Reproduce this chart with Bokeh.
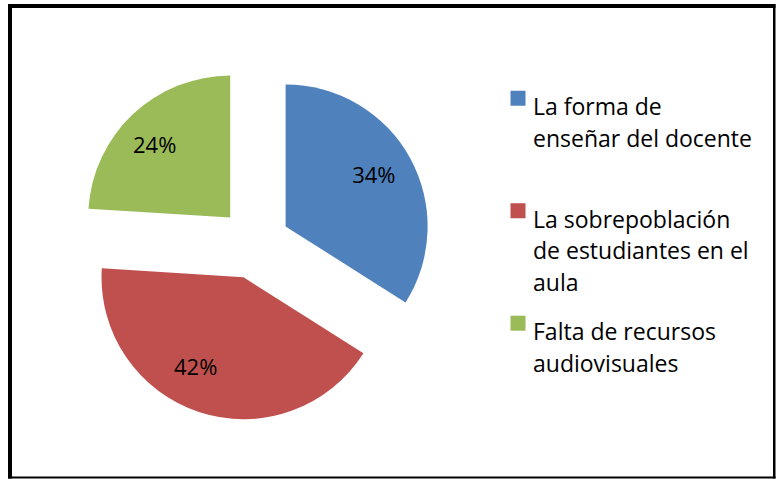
import math
from bokeh.plotting import figure
from bokeh.models import Range1d, ColumnDataSource
from bokeh.core.properties import value
from bokeh.embed import file_html
from bokeh.resources import INLINE

# ---- data ----
categories = ["La forma de enseñar del docente",
              "La sobrepoblación de estudiantes en el aula",
              "Falta de recursos audiovisuales"]
legend_lines = [["La forma de", "enseñar del docente"],
                ["La sobrepoblación", "de estudiantes en el", "aula"],
                ["Falta de recursos", "audiovisuales"]]
percents = [34, 42, 24]
colors = ["#4F81BD", "#C0504D", "#9BBB59"]

# ---- layout (page pixels -> data units, 1:1) ----
W, H = 776, 479
def X(px):
    return px
def Y(py):
    return H - py

cx, cy = X(254), Y(243)
R = 142
EXPLODE = 35.5
LABEL_R = 103
label_nudge = [(-2, -3), (-16, -9), (-5, 1)]   # page px (dx, dy down)
FONT = value("Open Sans")

p = figure(width=W, height=H, output_backend="svg", toolbar_location=None,
           x_range=Range1d(0, W), y_range=Range1d(0, H),
           min_border=0, tools="")
p.axis.visible = False
p.grid.visible = False
p.outline_line_color = None
p.background_fill_color = "white"
p.border_fill_color = "white"

# chart frame (thicker on left/top, as in the reference)
p.quad(left=[X(7.5), X(7.5), X(772.5), X(7.5)],
       right=[X(11.5), X(775), X(775), X(775)],
       top=[Y(3.5), Y(3.5), Y(3.5), Y(476)],
       bottom=[Y(478), Y(7.5), Y(478), Y(478)],
       fill_color="black", line_color=None)

total = float(sum(percents))
start = math.pi / 2  # 12 o'clock, going clockwise
xs, ys, sa, ea, lx, ly, lt = [], [], [], [], [], [], []
for i, v in enumerate(percents):
    sweep = 2 * math.pi * v / total
    end = start - sweep
    mid = (start + end) / 2
    ox = cx + EXPLODE * math.cos(mid)
    oy = cy + EXPLODE * math.sin(mid)
    xs.append(ox); ys.append(oy); sa.append(end); ea.append(start)
    lx.append(ox + LABEL_R * math.cos(mid) + label_nudge[i][0])
    ly.append(oy + LABEL_R * math.sin(mid) - label_nudge[i][1])
    lt.append(f"{v}%")
    start = end

src = ColumnDataSource(dict(x=xs, y=ys, start=sa, end=ea, color=colors, cat=categories))
p.wedge(x="x", y="y", radius=R, start_angle="start", end_angle="end",
        fill_color="color", line_color=None, source=src)

p.text(x=lx, y=ly, text=lt, text_align="center", text_baseline="middle",
       text_font=FONT, text_font_size="22px", text_color="black")

# ---- legend ----
sq_x = X(517.5)
txt_x = X(532.5)
first_base = 105.7
item_gap = 112.5
line_gap = 31.7
rx, ry, rc = [], [], []
tx, ty, tt = [], [], []
for i, lines in enumerate(legend_lines):
    b = first_base + i * item_gap
    rx.append(sq_x); ry.append(Y(b - 8)); rc.append(colors[i])
    for j, s in enumerate(lines):
        tx.append(txt_x); ty.append(Y(b + j * line_gap)); tt.append(s)
p.rect(x=rx, y=ry, width=15, height=15, fill_color=rc, line_color=None)
p.text(x=tx, y=ty, text=tt, text_align="left", text_baseline="alphabetic",
       text_font=FONT, text_font_size="23px", text_color="black")

open("out.html", "w").write(file_html(p, INLINE))
